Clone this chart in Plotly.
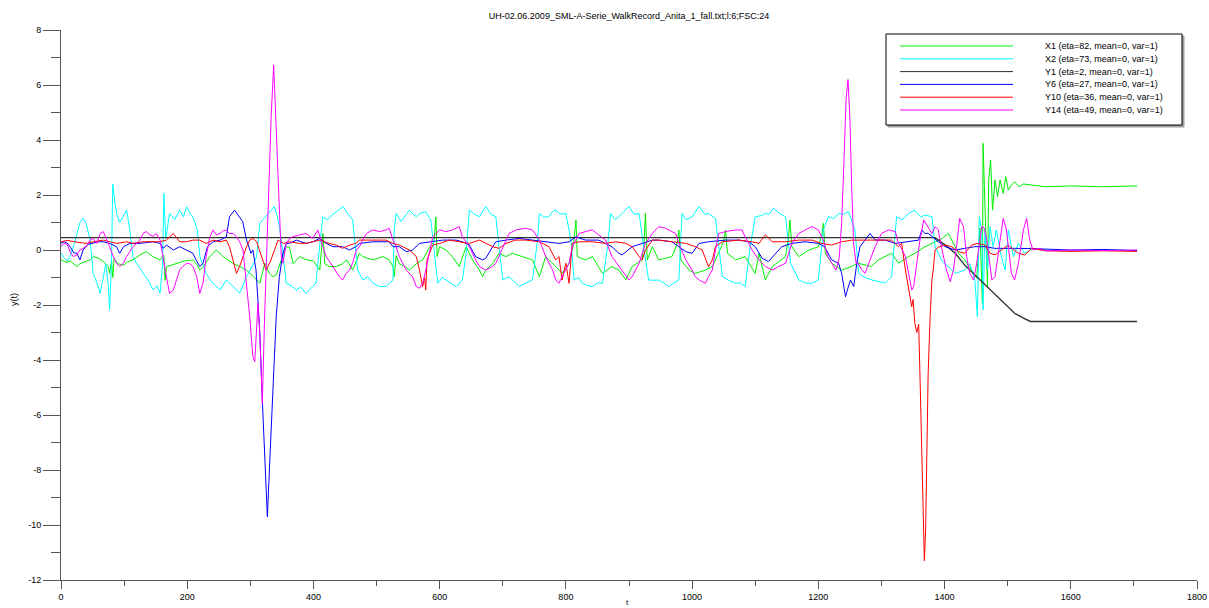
import plotly.graph_objects as go

TITLE = "UH-02.06.2009_SML-A-Serie_WalkRecord_Anita_1_fall.txt;l:6;FSC:24"
NAMES = ["X1 (eta=82, mean=0, var=1)", "X2 (eta=73, mean=0, var=1)", "Y1 (eta=2, mean=0, var=1)",
         "Y6 (eta=27, mean=0, var=1)", "Y10 (eta=36, mean=0, var=1)", "Y14 (eta=49, mean=0, var=1)"]
COLORS = ["#00ee00", "#00ffff", "#303030", "#0000ff", "#ff0000", "#ff00ff"]
X_TICKS = [0, 200, 400, 600, 800, 1000, 1200, 1400, 1600, 1800]
Y_TICKS = [-12, -10, -8, -6, -4, -2, 0, 2, 4, 6, 8]

# (t, y) values
X1 = [(0,-0.35),(8,-0.45),(15,-0.4),(25,-0.6),(30,-0.5),(37,-0.45),(46,-0.36),(51,-0.24),(60,-0.3),(67,-0.42),(75,-0.6),(77,-0.85),(80,-0.4),(82,-1.0),(84,-0.3),(90,-0.5),(100,-0.55),(104,-0.45),(114,-0.36),(125,-0.18),(135,-0.06),(146,-0.25),(157,-0.36),(163,-0.2),(165,-1.1),(167,-0.61),(175,-0.55),(183,-0.48),(195,-0.4),(209,-0.36),(216,-0.55),(220,-0.73),(226,-0.6),(236,-0.24),(246,0.0),(257,-0.24),(272,-0.48),(283,-0.6),(294,-0.73),(305,-0.97),(315,-1.21),(323,-0.48),(330,-0.85),(336,-0.97),(341,-0.9),(350,-0.3),(357,0.12),(362,0.1),(368,-0.5),(378,-0.24),(390,-0.36),(400,-0.4),(410,-0.73),(415,0.6),(418,-0.5),(425,-0.6),(436,-0.6),(446,-0.5),(453,-0.36),(462,-0.73),(468,-0.4),(473,-0.12),(478,-0.24),(494,-0.36),(510,-0.24),(520,-0.36),(526,-0.6),(528,-0.97),(531,-0.2),(536,-0.5),(545,-0.6),(552,-0.73),(563,-0.5),(573,-0.36),(584,0.1),(591,0.3),(594,1.2),(596,-0.24),(600,0.12),(610,0.0),(620,-0.24),(631,-0.6),(642,0.12),(652,-0.36),(663,-0.73),(668,-0.97),(673,-0.73),(684,-0.5),(694,-0.12),(705,-0.24),(715,-0.12),(731,-0.24),(747,-0.36),(758,-0.97),(768,-0.24),(784,-0.6),(794,-0.85),(805,-0.5),(812,0.2),(816,1.09),(818,-0.24),(831,-0.36),(842,-0.24),(858,-0.85),(873,-0.6),(884,-0.73),(895,-1.09),(905,-0.6),(921,-0.36),(924,0.3),(926,1.33),(929,-0.36),(937,0.12),(947,-0.36),(960,-0.3),(968,-0.24),(976,0.2),(979,0.73),(982,-0.36),(995,-0.73),(1005,-0.85),(1021,-0.73),(1032,-0.6),(1042,-0.12),(1050,0.3),(1053,0.73),(1056,-0.12),(1069,-0.36),(1084,-0.24),(1100,-0.85),(1106,-0.12),(1116,-1.09),(1127,-0.6),(1148,-0.24),(1153,0.5),(1155,1.09),(1158,0.12),(1169,-0.24),(1185,0.0),(1200,0.12),(1206,0.6),(1208,0.97),(1211,-0.12),(1221,-0.48),(1237,-0.73),(1253,-0.6),(1263,-0.48),(1284,-0.6),(1295,-0.36),(1316,-0.12),(1327,-0.48),(1343,-0.24),(1353,-0.12),(1369,0.12),(1385,0.3),(1395,0.4),(1406,0.6),(1411,0.36),(1422,-0.12),(1432,-0.36),(1443,-0.73),(1451,-1.03),(1456,0.8),(1460,-1.94),(1461,3.88),(1465,1.33),(1468,-1.33),(1470,2.55),(1473,3.27),(1476,1.45),(1480,2.55),(1484,1.94),(1488,2.55),(1493,2.06),(1497,2.67),(1501,2.18),(1506,2.36),(1511,2.48),(1518,2.3),(1525,2.4),(1538,2.36),(1560,2.3),(1600,2.33),(1650,2.3),(1705,2.33)]

X2 = [(0,-0.1),(5,-0.3),(10,-0.4),(15,-0.2),(22,0.3),(30,1.0),(35,1.15),(40,0.95),(46,0.4),(51,-0.85),(57,-1.2),(62,-1.57),(67,-1.0),(71,-0.5),(75,-1.3),(77,-2.18),(80,-0.5),(82,2.4),(85,1.8),(88,1.33),(93,1.0),(98,1.2),(104,1.45),(109,0.73),(114,-0.24),(120,-0.5),(130,-0.85),(138,-1.1),(146,-1.45),(152,-1.3),(157,-1.57),(161,-0.5),(163,2.06),(166,0.4),(172,1.33),(180,1.1),(188,1.45),(194,1.2),(199,1.57),(205,1.3),(209,1.2),(216,0.73),(220,-0.24),(230,-0.85),(240,-1.2),(252,-1.45),(262,-1.09),(272,-1.3),(283,-1.57),(294,-0.97),(305,-0.5),(310,-0.24),(315,0.97),(320,1.1),(325,1.21),(332,1.4),(338,1.58),(343,1.2),(346,0.85),(351,0.0),(357,-1.21),(365,-1.3),(373,-1.45),(380,-1.35),(388,-1.58),(396,-1.4),(404,-1.2),(410,0.2),(415,1.21),(422,1.1),(431,1.3),(440,1.45),(447,1.58),(455,1.3),(462,1.1),(466,0.2),(470,-0.73),(478,-1.09),(486,-0.97),(494,-1.2),(505,-1.33),(515,-1.33),(526,-1.09),(528,0.73),(531,1.33),(539,1.03),(546,1.25),(552,1.45),(558,1.3),(563,1.21),(570,1.35),(578,1.39),(586,1.09),(592,-0.24),(597,-1.21),(604,-1.0),(610,-1.09),(618,-1.2),(626,-1.33),(636,-1.09),(642,-0.12),(647,1.45),(655,1.3),(663,1.21),(668,1.4),(673,1.58),(681,1.3),(689,1.21),(694,0.12),(700,-1.09),(710,-0.97),(718,-1.15),(726,-1.33),(737,-1.2),(747,-1.09),(755,0.36),(758,1.33),(765,1.2),(773,1.21),(779,1.4),(784,1.45),(792,1.3),(800,1.33),(808,0.36),(813,-1.09),(820,-1.0),(826,-1.21),(835,-1.3),(842,-1.33),(850,-1.2),(858,-1.21),(866,0.12),(871,1.33),(878,1.1),(884,1.21),(892,1.4),(900,1.58),(908,1.3),(916,1.33),(924,0.0),(931,-1.09),(940,-1.1),(947,-1.09),(955,-1.2),(963,-1.33),(971,-1.2),(979,-1.09),(984,1.33),(990,1.1),(1000,1.21),(1011,1.58),(1020,1.3),(1026,1.33),(1037,1.15),(1042,0.12),(1048,-0.97),(1058,-1.1),(1069,-1.21),(1076,-1.2),(1084,-1.33),(1092,0.12),(1100,1.21),(1110,1.25),(1116,1.33),(1122,1.3),(1129,1.52),(1140,1.3),(1148,1.21),(1156,-0.48),(1169,-1.09),(1180,-1.2),(1190,-1.21),(1200,-1.09),(1208,0.73),(1216,1.21),(1225,1.15),(1232,1.33),(1240,1.3),(1248,1.39),(1258,0.73),(1264,-0.85),(1274,-1.0),(1285,-1.09),(1295,-1.15),(1306,-1.21),(1316,-0.97),(1324,1.21),(1333,1.1),(1343,1.33),(1353,1.45),(1362,1.2),(1369,1.27),(1380,1.21),(1385,0.12),(1396,-0.4),(1406,-0.6),(1417,-0.85),(1432,-0.73),(1440,-0.5),(1448,-1.09),(1452,-2.42),(1455,1.21),(1459,0.73),(1461,-2.18),(1464,0.73),(1468,-0.73),(1472,0.85),(1477,0.12),(1482,0.73),(1490,-0.24),(1496,-0.73),(1501,0.73),(1509,-0.24),(1517,0.24),(1527,-0.12),(1540,0.06),(1560,0.0),(1600,-0.03),(1650,0.0),(1705,-0.03)]

Y1 = [(0,0.45),(1385,0.45),(1401,0.18),(1417,-0.12),(1432,-0.55),(1448,-0.91),(1464,-1.27),(1480,-1.64),(1496,-2.0),(1511,-2.3),(1525,-2.48),(1536,-2.6),(1705,-2.6)]

Y6 = [(0,0.24),(5,0.3),(10,0.25),(15,0.1),(20,-0.1),(25,-0.12),(30,-0.36),(35,0.0),(42,0.2),(51,0.24),(60,0.3),(67,0.3),(77,0.24),(88,0.12),(93,-0.12),(99,0.12),(109,0.24),(125,0.24),(146,0.3),(157,0.24),(162,0.06),(167,0.18),(178,0.0),(188,0.12),(199,0.0),(209,-0.12),(214,-0.36),(220,-0.6),(225,-0.48),(232,0.12),(241,0.3),(252,0.36),(262,0.48),(267,1.21),(275,1.45),(283,1.21),(288,1.03),(294,0.36),(301,-0.12),(304,0.0),(309,-0.73),(312,-1.82),(315,-3.03),(319,-5.45),(323,-7.88),(327,-9.7),(331.6,-7.27),(336,-4.85),(341,-2.42),(346,-0.97),(351.6,-0.12),(357,0.24),(362,0.24),(373,0.36),(388,0.24),(399,0.3),(410,0.42),(420,0.24),(431,0.12),(446,0.12),(457,0.0),(467,0.12),(473,0.24),(494,0.3),(520,0.3),(526,0.12),(536,0.12),(547,-0.06),(557,0.0),(568,0.24),(589,0.3),(605,0.36),(626,0.36),(636,0.3),(647,0.18),(657,-0.24),(668,-0.36),(673,-0.3),(684,0.12),(689,0.3),(705,0.36),(726,0.42),(747,0.36),(768,0.3),(789,0.24),(805,0.3),(816,0.48),(831,0.36),(852,0.36),(873,0.12),(884,-0.12),(889,-0.18),(895,-0.06),(905,0.12),(921,0.24),(937,0.36),(947,0.36),(968,0.3),(979,0.12),(990,-0.06),(1000,-0.12),(1011,0.24),(1026,0.3),(1053,0.36),(1074,0.36),(1090,0.3),(1100,0.12),(1111,-0.3),(1121,-0.42),(1132,-0.12),(1142,0.12),(1158,0.24),(1179,0.3),(1200,0.24),(1210,0.12),(1221,-0.36),(1232,-0.48),(1237,-0.85),(1243,-1.7),(1246,-1.45),(1251,-1.09),(1256,-1.33),(1261,-0.48),(1266,0.12),(1274,0.36),(1282,0.6),(1290,0.36),(1306,0.36),(1322,0.24),(1338,0.3),(1353,0.36),(1359,0.36),(1364,0.73),(1369,0.6),(1374,0.61),(1380,0.48),(1390,0.3),(1401,0.12),(1417,0.0),(1432,0.06),(1448,0.12),(1464,0.12),(1480,0.06),(1511,0.06),(1540,0.05),(1600,0.0),(1650,0.02),(1705,-0.02)]

Y10 = [(0,0.3),(10,0.35),(21,0.3),(40,0.24),(51,0.3),(67,0.36),(77,0.3),(88,0.24),(104,0.3),(114,0.24),(130,0.3),(157,0.3),(167,0.36),(178,0.6),(188,0.3),(199,0.3),(209,0.36),(220,0.36),(230,0.24),(241,0.36),(252,0.3),(262,0.36),(267,0.12),(272,-0.36),(278,-0.85),(283,-0.6),(294,0.12),(299,0.36),(304,0.42),(310,0.3),(320,-0.36),(325,-0.73),(332,-0.4),(338,0.0),(344,0.36),(353,0.24),(362,0.3),(378,0.24),(388,0.24),(399,0.3),(410,0.36),(425,0.24),(436,0.18),(446,0.06),(457,0.18),(467,0.24),(473,0.36),(494,0.36),(515,0.36),(526,0.24),(536,0.18),(552,0.0),(563,-0.24),(568,-0.73),(573,-1.33),(576,-1.0),(578,-1.45),(580,-0.36),(589,0.18),(600,0.24),(615,0.36),(631,0.3),(647,0.24),(663,0.36),(673,0.24),(684,0.12),(694,0.06),(705,0.24),(720,0.36),(736,0.36),(758,0.3),(773,0.12),(784,-0.36),(789,-0.24),(794,-1.09),(800,-0.48),(805,-1.21),(810,0.24),(821,0.3),(842,0.3),(863,0.24),(879,0.3),(895,0.24),(905,0.12),(916,-0.24),(921,-0.36),(926,0.0),(937,0.36),(947,0.36),(968,0.3),(990,0.24),(1005,0.12),(1016,0.0),(1026,-0.61),(1032,-0.36),(1037,0.12),(1048,0.3),(1074,0.36),(1095,0.3),(1106,0.24),(1116,0.55),(1127,0.3),(1148,0.3),(1169,0.36),(1190,0.36),(1205,0.24),(1221,0.18),(1237,0.3),(1253,0.36),(1274,0.36),(1295,0.36),(1316,0.36),(1327,0.12),(1332,0.24),(1338,-0.73),(1343,-1.45),(1348,-2.06),(1350,-1.8),(1353,-2.67),(1356,-3.0),(1359,-2.7),(1361,-4.5),(1364,-7.5),(1366,-10.0),(1368,-11.3),(1370,-10.2),(1372,-7.0),(1374,-4.5),(1377,-2.5),(1380,-1.09),(1382,-0.73),(1385,0.0),(1390,0.1),(1401,0.18),(1411,0.12),(1422,-0.06),(1432,-0.12),(1443,0.18),(1453,0.24),(1464,0.18),(1472,-0.12),(1480,-0.18),(1490,0.0),(1501,0.18),(1510,0.0),(1517,-0.12),(1527,-0.18),(1538,0.06),(1560,-0.03),(1600,-0.05),(1650,-0.03),(1705,-0.05)]

Y14 = [(0,0.12),(5,0.24),(10,0.2),(15,-0.1),(19.5,-0.24),(25,-0.18),(30,0.0),(40,0.12),(46,0.36),(51,0.42),(57,0.24),(62,0.6),(67,0.67),(72,0.36),(77,0.12),(83,-0.24),(88,-0.48),(93,-0.6),(99,-0.48),(104,-0.24),(109,-0.06),(114,0.12),(125,0.36),(130,0.6),(135,0.67),(141,0.55),(146,0.5),(151,0.6),(157,0.36),(162,-0.36),(167,-0.97),(172,-1.58),(178,-1.45),(183,-1.09),(188,-0.73),(193,-0.6),(199,-0.48),(204,-0.5),(209,-0.6),(215,-0.97),(220,-1.58),(225,-1.2),(230,-0.24),(236,0.48),(241,0.73),(246,0.55),(252,0.6),(257,0.7),(262,0.73),(267,0.6),(272.6,0.6),(278,0.48),(283,0.3),(288.4,0.0),(293.7,-1.21),(299,-2.42),(304,-3.88),(307,-4.06),(309.5,-3.03),(312,-1.94),(315,-3.03),(317.4,-4.85),(319,-5.58),(322.6,-2.42),(328,1.21),(333,4.85),(337,6.73),(341,4.24),(345,1.82),(349,-0.24),(351.6,-0.48),(357,0.24),(362,0.4),(367,0.48),(378,0.55),(388,0.6),(399,0.42),(407,0.73),(415,0.12),(420,-0.24),(431,-0.6),(441,-0.97),(446,-1.09),(452,-0.85),(457,-0.73),(462,-0.48),(468,0.0),(473,0.12),(478,0.36),(484,0.6),(494,0.73),(505,0.67),(515,0.73),(520,0.79),(526,0.36),(531,0.12),(536,-0.24),(547,-0.73),(557,-0.97),(563,-1.33),(568,-1.39),(573,-1.21),(578,-0.73),(584,-0.12),(589,0.48),(600,0.73),(610,0.67),(620,0.73),(631,0.85),(636,0.48),(647,0.12),(657,-0.36),(663,-0.6),(673,-0.73),(684,-0.6),(689,-0.48),(700,0.12),(710,0.6),(721,0.73),(736,0.79),(747,0.73),(758,0.36),(768,-0.24),(779,-0.73),(784,-1.09),(789,-1.21),(794,-0.97),(805,-0.48),(810,0.12),(821,0.6),(831,0.67),(842,0.73),(852,0.55),(863,0.36),(873,-0.24),(884,-0.6),(895,-0.97),(900,-1.09),(905,-0.97),(916,-0.48),(926,0.24),(937,0.6),(947,0.85),(958,0.79),(968,0.67),(974,0.6),(979,0.24),(990,-0.36),(1000,-0.73),(1005,-0.97),(1011,-1.09),(1021,-1.21),(1026,-0.97),(1032,-0.73),(1037,0.0),(1042,0.6),(1053,0.67),(1069,0.73),(1079,0.73),(1084,0.48),(1095,0.0),(1106,-0.36),(1116,-0.6),(1127,-0.73),(1137,-0.6),(1148,-0.48),(1158,0.24),(1169,0.6),(1179,0.73),(1190,0.85),(1200,0.73),(1208,0.36),(1215,-0.24),(1221,-0.48),(1228,-0.73),(1233,-0.3),(1237,1.0),(1241,3.5),(1244,5.5),(1247,6.2),(1250,4.8),(1253,2.2),(1256,0.2),(1260,-0.5),(1263,-0.48),(1268,-0.7),(1274,-0.85),(1280,-0.48),(1290,0.12),(1300,0.6),(1311,0.73),(1322,0.67),(1327,0.24),(1333,0.0),(1338,-0.24),(1343,-0.85),(1348,-1.45),(1351,-1.33),(1356,-0.48),(1361,0.36),(1367,1.09),(1374,0.85),(1380,0.6),(1385,0.85),(1390,0.73),(1395,0.12),(1403,-0.73),(1409,-1.15),(1414,-0.73),(1419,0.12),(1424,1.15),(1430,0.85),(1435,-0.24),(1440,-0.85),(1446,-1.09),(1451,-0.48),(1459,0.85),(1463,0.8),(1467,0.36),(1475,-1.09),(1480,-0.97),(1488,0.36),(1493,1.15),(1498,0.73),(1506,-0.85),(1511,-1.09),(1517,-0.48),(1525,0.73),(1530,1.15),(1535,0.36),(1540,0.0),(1550,0.06),(1560,-0.03),(1600,0.0),(1650,-0.02),(1705,0.0)]

SERIES = [X1, X2, Y1, Y6, Y10, Y14]
WIDTHS = [1, 1, 1.4, 1, 1, 1]

FONT = "Liberation Sans, Arial, sans-serif"
W, H = 1209, 608
PL, PR, PT, PB = 61, 1197, 30, 580   # plot area in window pixels
ML, MR, MT, MB = PL, W - PR, PT, H - PB
PW, PH = PR - PL, PB - PT


def px(xp):
    return (xp - PL) / PW


def py(yp):
    return (PB - yp) / PH


fig = go.Figure()
for name, data, color, w in zip(NAMES, SERIES, COLORS, WIDTHS):
    fig.add_trace(go.Scatter(x=[p[0] for p in data], y=[p[1] for p in data], mode="lines",
                             name=name, line=dict(color=color, width=w), showlegend=False))

# legend box drawn by hand (long sample lines like the reference)
shapes = [
    dict(type="rect", xref="paper", yref="paper", x0=px(888), x1=px(1184), y0=py(127), y1=py(36),
         line=dict(color="#a0a0a0", width=1), fillcolor="#a0a0a0", layer="above"),
    dict(type="rect", xref="paper", yref="paper", x0=px(886), x1=px(1182), y0=py(125), y1=py(34),
         line=dict(color="#000000", width=1), fillcolor="#ffffff", layer="above"),
]
annotations = []
for i, (name, color) in enumerate(zip(NAMES, COLORS)):
    yrow = 46 + i * 12.8
    shapes.append(dict(type="line", xref="paper", yref="paper", x0=px(900), x1=px(1013),
                       y0=py(yrow), y1=py(yrow), line=dict(color=color, width=1), layer="above"))
    annotations.append(dict(text=name, xref="paper", yref="paper", x=px(1043), y=py(yrow),
                            xanchor="left", yanchor="middle", showarrow=False,
                            font=dict(family=FONT, size=9, color="#000000")))

# axis titles as text placed like the reference
annotations.append(dict(text="t", xref="paper", yref="paper", x=px(627), y=py(596),
                        xanchor="center", yanchor="top", showarrow=False,
                        font=dict(family=FONT, size=8, color="#000000")))
annotations.append(dict(text="y(t)", xref="paper", yref="paper", x=px(14), y=py(300),
                        xanchor="center", yanchor="middle", showarrow=False, textangle=-90,
                        font=dict(family=FONT, size=9, color="#000000")))

fig.update_layout(
    width=W, height=H, autosize=False,
    margin=dict(l=ML, r=MR, t=MT, b=MB, autoexpand=False),
    paper_bgcolor="white", plot_bgcolor="white",
    title=dict(text=TITLE, x=0.5, xref="paper", y=1 - 16 / H, yanchor="middle",
               font=dict(family=FONT, size=9, color="#000000"), automargin=False),
    font=dict(family=FONT, size=9, color="#000000"),
    shapes=shapes, annotations=annotations,
    xaxis=dict(range=[0, 1800], tickvals=X_TICKS, ticktext=[str(v) for v in X_TICKS],
               automargin=False, ticklabeloverflow="allow",
               showgrid=False, zeroline=False, showline=True, linecolor="#555555", linewidth=1,
               ticks="outside", ticklen=8, tickcolor="#555555",
               minor=dict(ticks="outside", ticklen=5, dtick=100, tickcolor="#555555", showgrid=False),
               tickfont=dict(family=FONT, size=9, color="#000000")),
    yaxis=dict(range=[-12, 8], tickvals=Y_TICKS, ticktext=[str(v) for v in Y_TICKS],
               automargin=False, ticklabeloverflow="allow",
               showgrid=False, zeroline=False, showline=True, linecolor="#555555", linewidth=1,
               ticks="outside", ticklen=17, tickcolor="#555555",
               minor=dict(ticks="outside", ticklen=9, dtick=1, tickcolor="#555555", showgrid=False),
               tickfont=dict(family=FONT, size=9, color="#000000")),
)

# remove the page's default body margin so the figure fills the window exactly
fig.write_html("out.html", config={"displayModeBar": False},
               post_script="document.body.style.margin='0';document.body.style.overflow='hidden';")
